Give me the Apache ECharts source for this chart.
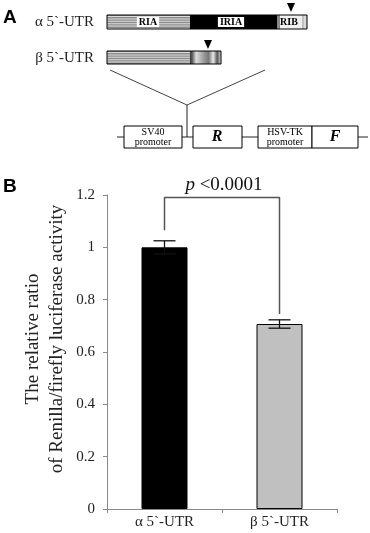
<!DOCTYPE html>
<html>
<head>
<meta charset="utf-8">
<script src="https://cdn.jsdelivr.net/npm/echarts@6/dist/echarts.min.js"></script>
<style>
html,body{margin:0;padding:0;background:#fff;}
#chart{width:370px;height:533px;}
</style>
</head>
<body>
<div id="chart"></div>
<script>
// ---- data ----
const categories = ['\u03b1 5`-UTR', '\u03b2 5`-UTR'];
const values = [1.0, 0.707];
const errors = [0.025, 0.016];
const yTickMin = 0, yTickMax = 1.2, yTickStep = 0.2;
const bracketLevels = [1.065, 1.19, 0.745]; // left foot, top, right foot
const pText = ['p', ' <0.0001'];
const yAxisName = ['The relative ratio', 'of Renilla/firefly luciferase activity'];
const constructLabels = ['SV40', 'promoter', 'R', 'HSV-TK', 'promoter', 'F'];
const regionLabels = ['RIA', 'IRIA', 'RIB'];

const serif = '"Liberation Serif","DejaVu Serif",serif';

// ---- schematic (panel A) ----
function stripes(x, y, w, h) {
  const els = [{type:'rect', shape:{x:x, y:y, width:w, height:h}, style:{fill:'#8c8c8c'}}];
  for (let yy = y + 1; yy < y + h - 1; yy += 2.4) {
    els.push({type:'rect', shape:{x:x, y:yy, width:w, height:1}, style:{fill:'#dcdcdc'}});
  }
  return els;
}
const g = [];
g.push({type:'text', left:3, top:8, style:{text:'A', font:'bold 19px "Liberation Sans",Arial,sans-serif', fill:'#000'}});
g.push({type:'text', left:3, top:177, style:{text:'B', font:'bold 19px "Liberation Sans",Arial,sans-serif', fill:'#000'}});
g.push({type:'text', x:94, y:22, style:{text:categories[0], font:'15px '+serif, fill:'#222', align:'right', verticalAlign:'middle'}});
g.push({type:'text', x:94, y:58, style:{text:categories[1], font:'15px '+serif, fill:'#222', align:'right', verticalAlign:'middle'}});
// alpha bar
stripes(107, 15, 83, 14).forEach(e => g.push(e));
g.push({type:'rect', shape:{x:190, y:15, width:87, height:14}, style:{fill:'#000'}});
g.push({type:'rect', shape:{x:277, y:15, width:3, height:14}, style:{fill:'#888'}});
g.push({type:'rect', shape:{x:280, y:15, width:27, height:14}, style:{fill:new echarts.graphic.LinearGradient(0,0,1,0,[{offset:0,color:'#f4f4f4'},{offset:0.8,color:'#eeeeee'},{offset:0.85,color:'#aaaaaa'},{offset:0.9,color:'#dddddd'},{offset:1,color:'#cfcfcf'}])}});
g.push({type:'rect', shape:{x:107, y:15, width:200, height:14}, style:{fill:null, stroke:'#000', lineWidth:1}});
g.push({type:'text', x:148, y:22, style:{text:regionLabels[0], font:'bold 10px '+serif, fill:'#000', align:'center', verticalAlign:'middle', backgroundColor:'#fff', padding:[0,2]}});
g.push({type:'text', x:231, y:22, style:{text:regionLabels[1], font:'bold 10px '+serif, fill:'#000', align:'center', verticalAlign:'middle', backgroundColor:'#fff', padding:[0,2]}});
g.push({type:'text', x:289, y:22, style:{text:regionLabels[2], font:'bold 10px '+serif, fill:'#000', align:'center', verticalAlign:'middle'}});
g.push({type:'polygon', shape:{points:[[287,3],[295,3],[291,12]]}, style:{fill:'#000'}});
// beta bar
stripes(107, 51, 83, 13).forEach(e => g.push(e));
g.push({type:'rect', shape:{x:190, y:51, width:31, height:13}, style:{fill:new echarts.graphic.LinearGradient(0,0,1,0,[{offset:0,color:'#333'},{offset:0.08,color:'#666'},{offset:0.2,color:'#ddd'},{offset:0.45,color:'#999'},{offset:0.6,color:'#777'},{offset:0.75,color:'#e8e8e8'},{offset:0.88,color:'#555'},{offset:1,color:'#ddd'}])}});
g.push({type:'rect', shape:{x:107, y:51, width:114, height:13}, style:{fill:null, stroke:'#000', lineWidth:1}});
g.push({type:'polygon', shape:{points:[[204,40],[212,40],[208,49]]}, style:{fill:'#000'}});
// connecting lines
g.push({type:'polyline', shape:{points:[[110,70],[187,105],[265,70]]}, style:{stroke:'#444', lineWidth:1, fill:null}});
g.push({type:'line', shape:{x1:187, y1:105, x2:187, y2:137}, style:{stroke:'#222', lineWidth:1}});
// construct
g.push({type:'line', shape:{x1:117, y1:137, x2:368, y2:137}, style:{stroke:'#222', lineWidth:1}});
const boxes = [[124,58],[193,49],[258,54],[312,46]];
boxes.forEach(b => g.push({type:'rect', shape:{x:b[0], y:126, width:b[1], height:22}, style:{fill:'#fff', stroke:'#000', lineWidth:1}}));
g.push({type:'text', x:153, y:137, style:{text:constructLabels[0]+'\n'+constructLabels[1], font:'10px '+serif, lineHeight:10, fill:'#000', align:'center', verticalAlign:'middle'}});
g.push({type:'text', x:217, y:137, style:{text:constructLabels[2], font:'italic bold 16px '+serif, fill:'#000', align:'center', verticalAlign:'middle'}});
g.push({type:'text', x:285, y:137, style:{text:constructLabels[3]+'\n'+constructLabels[4], font:'10px '+serif, lineHeight:10, fill:'#000', align:'center', verticalAlign:'middle'}});
g.push({type:'text', x:335, y:137, style:{text:constructLabels[5], font:'italic bold 16px '+serif, fill:'#000', align:'center', verticalAlign:'middle'}});
// p value
g.push({type:'text', x:224, y:185, style:{text:'{i|'+pText[0]+'}{n|'+pText[1]+'}', rich:{i:{font:'italic 19px '+serif, fill:'#111'}, n:{font:'19px '+serif, fill:'#111'}}, align:'center', verticalAlign:'middle'}});
// y axis name
g.push({type:'text', x:45, y:339, rotation:Math.PI/2, style:{text:yAxisName.join('\n'), font:'19px '+serif, lineHeight:24, fill:'#222', align:'center', verticalAlign:'middle'}});

const chart = echarts.init(document.getElementById('chart'), null, {renderer:'canvas'});
chart.setOption({
  animation:false,
  backgroundColor:'#fff',
  grid:{left:107, right:33, top:195, bottom:24, containLabel:false},
  xAxis:{
    type:'category', data:categories,
    axisLine:{lineStyle:{color:'#888', width:1}},
    axisTick:{show:true, length:4, lineStyle:{color:'#888'}},
    axisLabel:{color:'#222', fontFamily:'"Liberation Serif",serif', fontSize:15, margin:6}
  },
  yAxis:{
    type:'value', min:yTickMin, max:yTickMax, interval:yTickStep,
    axisLine:{show:true, lineStyle:{color:'#888', width:1}},
    axisTick:{show:true, length:4, lineStyle:{color:'#888'}},
    splitLine:{show:false},
    axisLabel:{color:'#222', fontFamily:'"Liberation Serif",serif', fontSize:15, margin:12}
  },
  series:[
    {type:'bar', barWidth:46, data:[
      {value:values[0], itemStyle:{color:'#000', borderColor:'#000', borderWidth:1}},
      {value:values[1], itemStyle:{color:'#c0c0c0', borderColor:'#000', borderWidth:1}}
    ], z:2},
    {type:'custom', z:3, data:values.map((v,i)=>[i, v-errors[i], v+errors[i]]),
     renderItem:function(params, api){
       const top = api.coord([api.value(0), api.value(2)]);
       const bot = api.coord([api.value(0), api.value(1)]);
       const hw = 11;
       const st = {stroke:'#111', lineWidth:1.3};
       return {type:'group', children:[
         {type:'line', shape:{x1:top[0], y1:top[1], x2:bot[0], y2:bot[1]}, style:st},
         {type:'line', shape:{x1:top[0]-hw, y1:top[1], x2:top[0]+hw, y2:top[1]}, style:st},
         {type:'line', shape:{x1:bot[0]-hw, y1:bot[1], x2:bot[0]+hw, y2:bot[1]}, style:st}
       ]};
     }},
    {type:'line', symbol:'none', z:4, silent:true,
     lineStyle:{color:'#555', width:1.5},
     data:[[0,bracketLevels[0]],[0,bracketLevels[1]],[1,bracketLevels[1]],[1,bracketLevels[2]]]}
  ],
  graphic:g
});
</script>
</body>
</html>
